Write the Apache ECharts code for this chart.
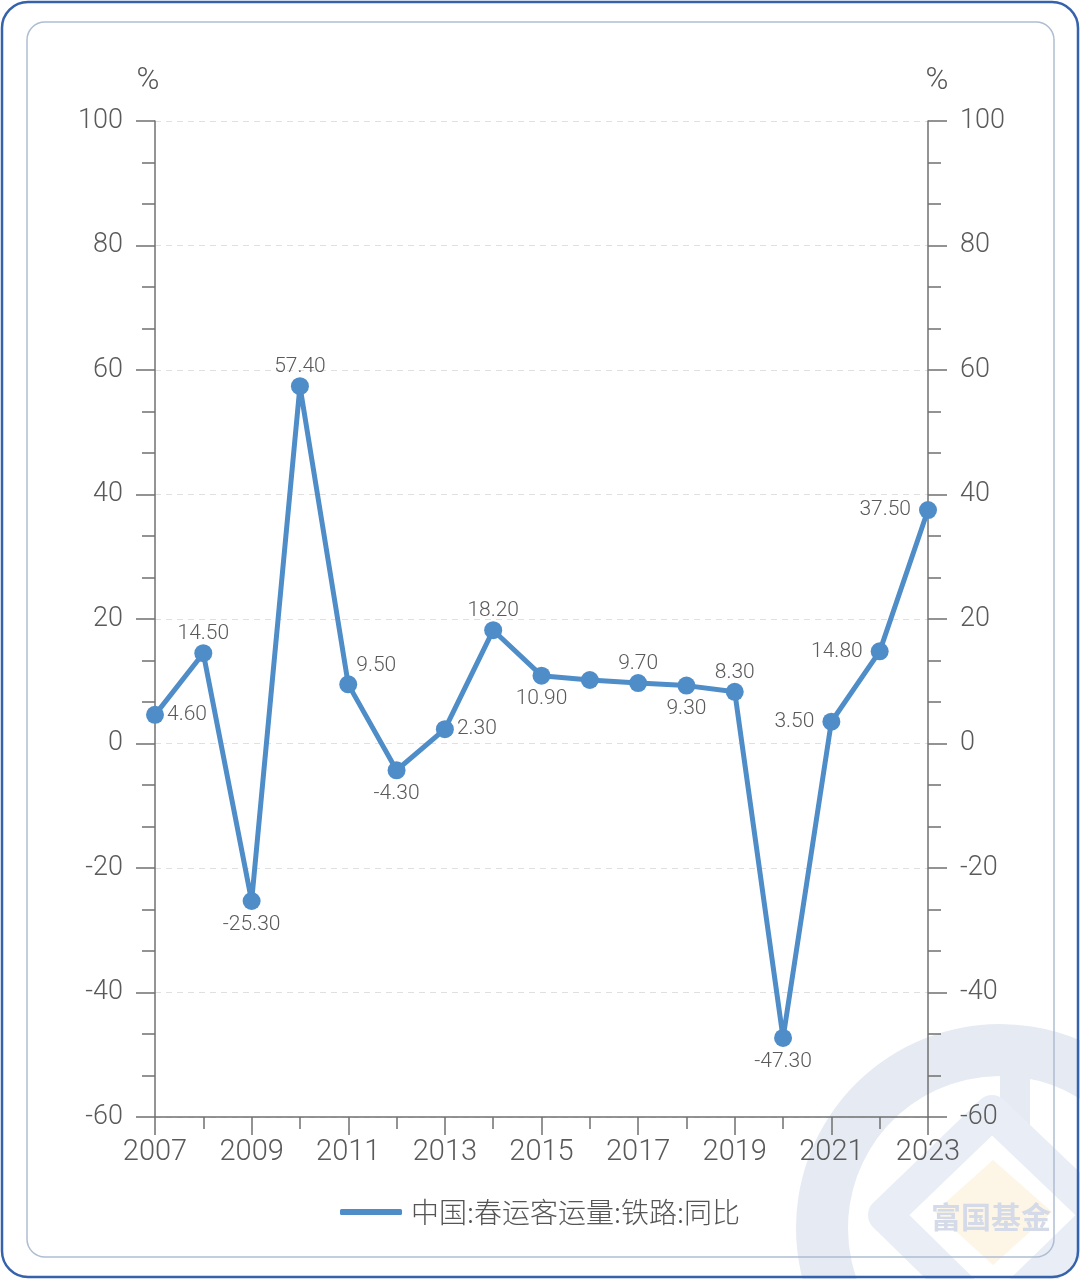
<!DOCTYPE html>
<html><head><meta charset="utf-8">
<script src="https://cdn.jsdelivr.net/npm/echarts@6/dist/echarts.min.js"></script>
<style>html,body{margin:0;padding:0;background:#fff}#c{width:1080px;height:1279px}</style>
</head><body><div id="c"></div>
<script>
const years = [2007,2008,2009,2010,2011,2012,2013,2014,2015,2016,2017,2018,2019,2020,2021,2022,2023];
const values = [4.6,14.5,-25.3,57.4,9.5,-4.3,2.3,18.2,10.9,10.2,9.7,9.3,8.3,-47.3,3.5,14.8,37.5];
const labelPos = ['right','top','bottom','top','topright','bottom','right','top','bottom','none','top','bottom','top','bottom','left','left','left'];
const yTicks = {min:-60, max:100, interval:20};
const seriesName = '中国:春运客运量:铁路:同比';
const unit = '%';

const NUMFONT = 'Roboto, "Noto Sans CJK SC", sans-serif';
const CJKFONT = '"Noto Sans CJK SC", "Noto Sans", sans-serif';
const lineColor = '#4f8dc8';
const axisColor = '#707070';

const data = years.map((y,i)=>{
  const p = labelPos[i];
  const item = {value:[y, values[i]]};
  if (p === 'none') item.label = {show:false};
  else if (p === 'topright') item.label = {position:'top', offset:[28,6]};
  else if (p === 'top') item.label = {position:'top', distance:0};
  else if (p === 'bottom') item.label = {position:'bottom', distance:4};
  else if (p === 'right') item.label = {position:'right', distance:3};
  else item.label = {position:p, distance:8};
  return item;
});

const yAxisBase = (pos)=>({
  type:'value', position:pos, min:yTicks.min, max:yTicks.max, interval:yTicks.interval,
  name:unit, nameLocation:'end', nameGap:24,
  nameTextStyle:{fontSize:31, color:'#555', fontFamily:NUMFONT, fontWeight:300, padding: pos==='left'?[0,14,0,0]:[0,0,0,18]},
  axisLine:{show:true, lineStyle:{color:axisColor, width:1.5}},
  axisTick:{show:true, length:19, lineStyle:{color:axisColor, width:1.5}},
  minorTick:{show:true, splitNumber:3, length:13, lineStyle:{color:axisColor, width:1.5}},
  axisLabel:{fontSize:27, color:'#5a5a5a', fontFamily:NUMFONT, fontWeight:300, margin:32},
  splitLine:{show: pos==='left', lineStyle:{type:[6,5], color:'#e0e0e0', width:1}}
});

const chart = echarts.init(document.getElementById('c'));
chart.setOption({
  backgroundColor:'#fff',
  animation:false,
  grid:{left:155, right:152, top:121, bottom:162, containLabel:false},
  xAxis:{
    type:'value', min:years[0], max:years[years.length-1], interval:2,
    axisLine:{onZero:false, lineStyle:{color:axisColor, width:1.5}},
    axisTick:{show:true, length:18, lineStyle:{color:axisColor, width:1.5}},
    minorTick:{show:true, splitNumber:2, length:12, lineStyle:{color:axisColor, width:1.5}},
    axisLabel:{fontSize:29, color:'#5a5a5a', fontFamily:NUMFONT, fontWeight:300, margin:21, formatter:v=>String(v)},
    splitLine:{show:false}
  },
  yAxis:[yAxisBase('left'), yAxisBase('right')],
  legend:{
    bottom:48, left:'center', icon:'roundRect', itemWidth:62, itemHeight:6, itemGap:10,
    textStyle:{fontSize:28, color:'#555', fontFamily:CJKFONT, fontWeight:300, padding:[0,0,0,4]},
    data:[seriesName]
  },
  series:[{
    name:seriesName, type:'line', yAxisIndex:0, data:data,
    symbol:'circle', symbolSize:18, showAllSymbol:true,
    lineStyle:{color:lineColor, width:5},
    itemStyle:{color:lineColor},
    label:{show:true, fontSize:21, color:'#5a5a5a', fontFamily:NUMFONT, fontWeight:300, formatter:p=>p.value[1].toFixed(2)},
    z:5
  }],
  graphic:[
    {type:'arc', z:-10, silent:true, shape:{cx:1000, cy:1228, r:178, startAngle:Math.PI*0.55, endAngle:Math.PI*2.05},
      style:{stroke:'#e6ebf3', lineWidth:52, fill:null}},
    {type:'rect', z:-10, silent:true, shape:{x:1000, y:1028, width:30, height:110}, style:{fill:'#e6ebf3'}},
    {type:'polygon', z:-10, silent:true, shape:{points:[[885,1215],[992,1112],[1100,1215],[992,1320]]},
      style:{stroke:'#e9edf5', lineWidth:34, fill:null, lineJoin:'round'}},
    {type:'polygon', z:-9, silent:true, shape:{points:[[935,1212],[993,1160],[1052,1212],[993,1265]]},
      style:{fill:'#fdf6e6'}},
    {type:'text', z:-8, silent:true, style:{x:991, y:1217, text:'富国基金', fontSize:30, fontWeight:'bold', fontFamily:CJKFONT,
      fill:'#d4dae7', align:'center', verticalAlign:'middle'}},
    {type:'rect', z:10, silent:true, shape:{x:27, y:22, width:1027, height:1235, r:18}, style:{fill:null, stroke:'#aebdd2', lineWidth:1.5}},
    {type:'rect', z:10, silent:true, shape:{x:2, y:2, width:1076, height:1275, r:26}, style:{fill:null, stroke:'#3562ad', lineWidth:2.5}}
  ]
});
</script></body></html>
